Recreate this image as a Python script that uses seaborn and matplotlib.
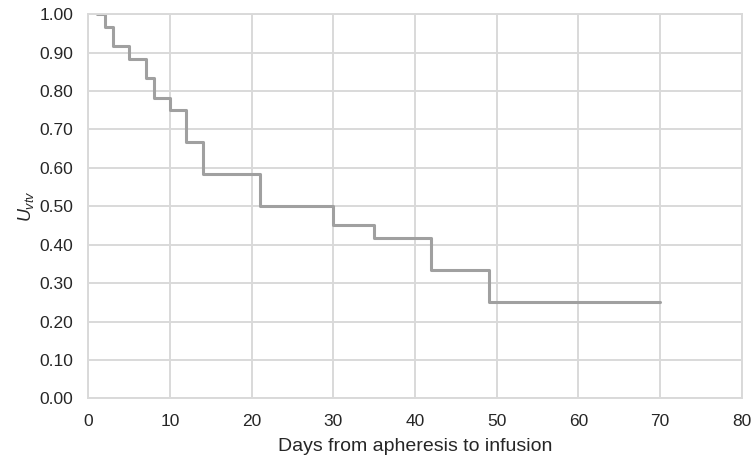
import matplotlib
matplotlib.use("Agg")
import matplotlib.pyplot as plt
import seaborn as sns
import pandas as pd

days = [1, 2, 3, 5, 7, 8, 10, 12, 14, 21, 30, 35, 42, 49, 70]
u_vtv = [1.0, 0.967, 0.917, 0.883, 0.833, 0.783, 0.75, 0.667, 0.583, 0.5, 0.45, 0.417, 0.333, 0.25, 0.25]
x_ticks = [0, 10, 20, 30, 40, 50, 60, 70, 80]
y_ticks = [0.0, 0.1, 0.2, 0.3, 0.4, 0.5, 0.6, 0.7, 0.8, 0.9, 1.0]

sns.set_theme(style="white")
plt.rcParams['font.family'] = ['Liberation Sans', 'DejaVu Sans']
plt.rcParams['mathtext.fontset'] = 'custom'
plt.rcParams['mathtext.it'] = 'Liberation Sans:italic'
plt.rcParams['mathtext.rm'] = 'Liberation Sans'

df = pd.DataFrame({"days": days, "u": u_vtv})

fig = plt.figure(figsize=(7.52, 4.61), dpi=100)
ax = fig.add_axes([0.1175, 0.136, 0.869, 0.833])

sns.lineplot(data=df, x="days", y="u", ax=ax, drawstyle="steps-post",
             color="#a0a0a0", linewidth=2.2, sort=False, estimator=None)

ax.set_xlim(0, 80)
ax.set_ylim(0, 1)
ax.set_xticks(x_ticks)
ax.set_yticks(y_ticks)
ax.set_xticklabels([str(v) for v in x_ticks])
ax.set_yticklabels([f"{v:.2f}" for v in y_ticks])
ax.grid(True, color="#d9d9d9", linewidth=1.4)
ax.set_axisbelow(True)
for s in ax.spines.values():
    s.set_color("#d9d9d9")
    s.set_linewidth(1.4)
ax.tick_params(axis="y", length=0, labelsize=12.5, colors="#262626", pad=11)
ax.tick_params(axis="x", length=0, labelsize=12.5, colors="#262626", pad=11)
ax.set_xlabel("Days from apheresis to infusion", fontsize=14, color="#262626", labelpad=7)
ax.set_ylabel(r"$\mathit{U}_{\mathit{vtv}}$", fontsize=13, color="#262626", labelpad=2)

fig.savefig("out.png", dpi=100)
